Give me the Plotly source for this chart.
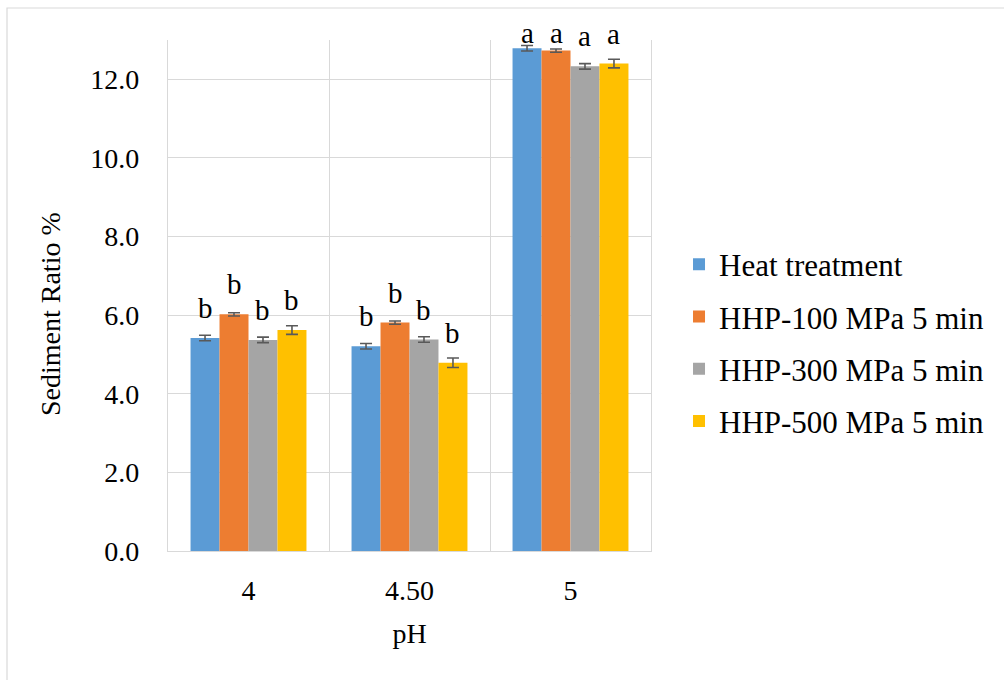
import plotly.graph_objects as go

categories = ["4", "4.50", "5"]
series_names = ["Heat treatment", "HHP-100 MPa 5 min", "HHP-300 MPa 5 min", "HHP-500 MPa 5 min"]
heat = [5.42, 5.21, 12.79]
hhp100 = [6.02, 5.81, 12.73]
hhp300 = [5.37, 5.38, 12.33]
hhp500 = [5.62, 4.79, 12.40]
err_heat = [0.07, 0.07, 0.07]
err_100 = [0.04, 0.04, 0.04]
err_300 = [0.07, 0.07, 0.07]
err_500 = [0.11, 0.12, 0.11]
letters_heat = ["b", "b", "a"]
letters_100 = ["b", "b", "a"]
letters_300 = ["b", "b", "a"]
letters_500 = ["b", "b", "a"]

colors = ["#5B9BD5", "#ED7D31", "#A5A5A5", "#FFC000"]
values = [heat, hhp100, hhp300, hhp500]
errors = [err_heat, err_100, err_300, err_500]
letters = [letters_heat, letters_100, letters_300, letters_500]

FONT = "Liberation Serif, Times New Roman, serif"
BARGAP = 0.28
LABEL_CAP = 12.42

fig = go.Figure()
for i, (name, vals, errs, col) in enumerate(zip(series_names, values, errors, colors)):
    fig.add_trace(go.Bar(
        x=categories, y=vals, name=name,
        marker=dict(color=col, line=dict(width=0)),
        error_y=dict(type="data", array=errs, visible=True, color="#595959", thickness=1.6, width=6),
        legendgroup=f"g{i}",
    ))

# significance letters
n = len(series_names)
bw = (1 - BARGAP) / n
annotations = []
for i in range(n):
    off = -((1 - BARGAP) / 2) + bw * (i + 0.5)
    for j, cat in enumerate(categories):
        annotations.append(dict(
            x=j + off, y=min(values[i][j], LABEL_CAP), xref="x", yref="y",
            text=letters[i][j], showarrow=False, yanchor="bottom", yshift=12,
            font=dict(family=FONT, size=29, color="black"),
        ))

# y-axis title as annotation (placed like the reference)
annotations.append(dict(
    text="Sediment Ratio %", textangle=-90, showarrow=False,
    xref="paper", yref="paper", x=(50 - 168) / 483, y=(551 - 314) / 511,
    xanchor="center", yanchor="middle",
    font=dict(family=FONT, size=28, color="black"),
))

fig.update_layout(
    width=1004, height=680,
    margin=dict(l=168, r=353, t=40, b=129),
    paper_bgcolor="white", plot_bgcolor="white",
    barmode="group", bargap=BARGAP, bargroupgap=0,
    font=dict(family=FONT, size=27, color="black"),
    showlegend=True,
    legend=dict(x=1.058, y=0.407, xanchor="left", yanchor="middle",
                font=dict(family=FONT, size=31, color="black"),
                traceorder="grouped", tracegroupgap=9,
                bgcolor="rgba(0,0,0,0)"),
    annotations=annotations,
    shapes=[dict(type="rect", xref="paper", yref="paper",
                 x0=(7 - 168) / 483, x1=(1010 - 168) / 483,
                 y0=(551 - 690) / 511, y1=(551 - 8) / 511,
                 line=dict(color="#D9D9D9", width=1.2), fillcolor="rgba(0,0,0,0)", layer="below")],
)
fig.update_xaxes(
    type="category", tickson="boundaries", showgrid=True, gridcolor="#D9D9D9", gridwidth=1.2,
    showline=True, linecolor="#D9D9D9", linewidth=1.2, ticks="", ticklabelstandoff=14,
    tickfont=dict(family=FONT, size=28, color="black"),
    title=dict(text="pH", font=dict(family=FONT, size=28, color="black"), standoff=18),
)
fig.update_yaxes(
    range=[0, 13], dtick=2, tick0=0, tickformat=".1f", showgrid=True, gridcolor="#D9D9D9", gridwidth=1.2,
    showline=True, mirror=True, linecolor="#D9D9D9", linewidth=1.2, ticks="", ticklabelstandoff=22,
    zeroline=False,
    tickfont=dict(family=FONT, size=28, color="black"),
)

fig.write_html("out.html")
